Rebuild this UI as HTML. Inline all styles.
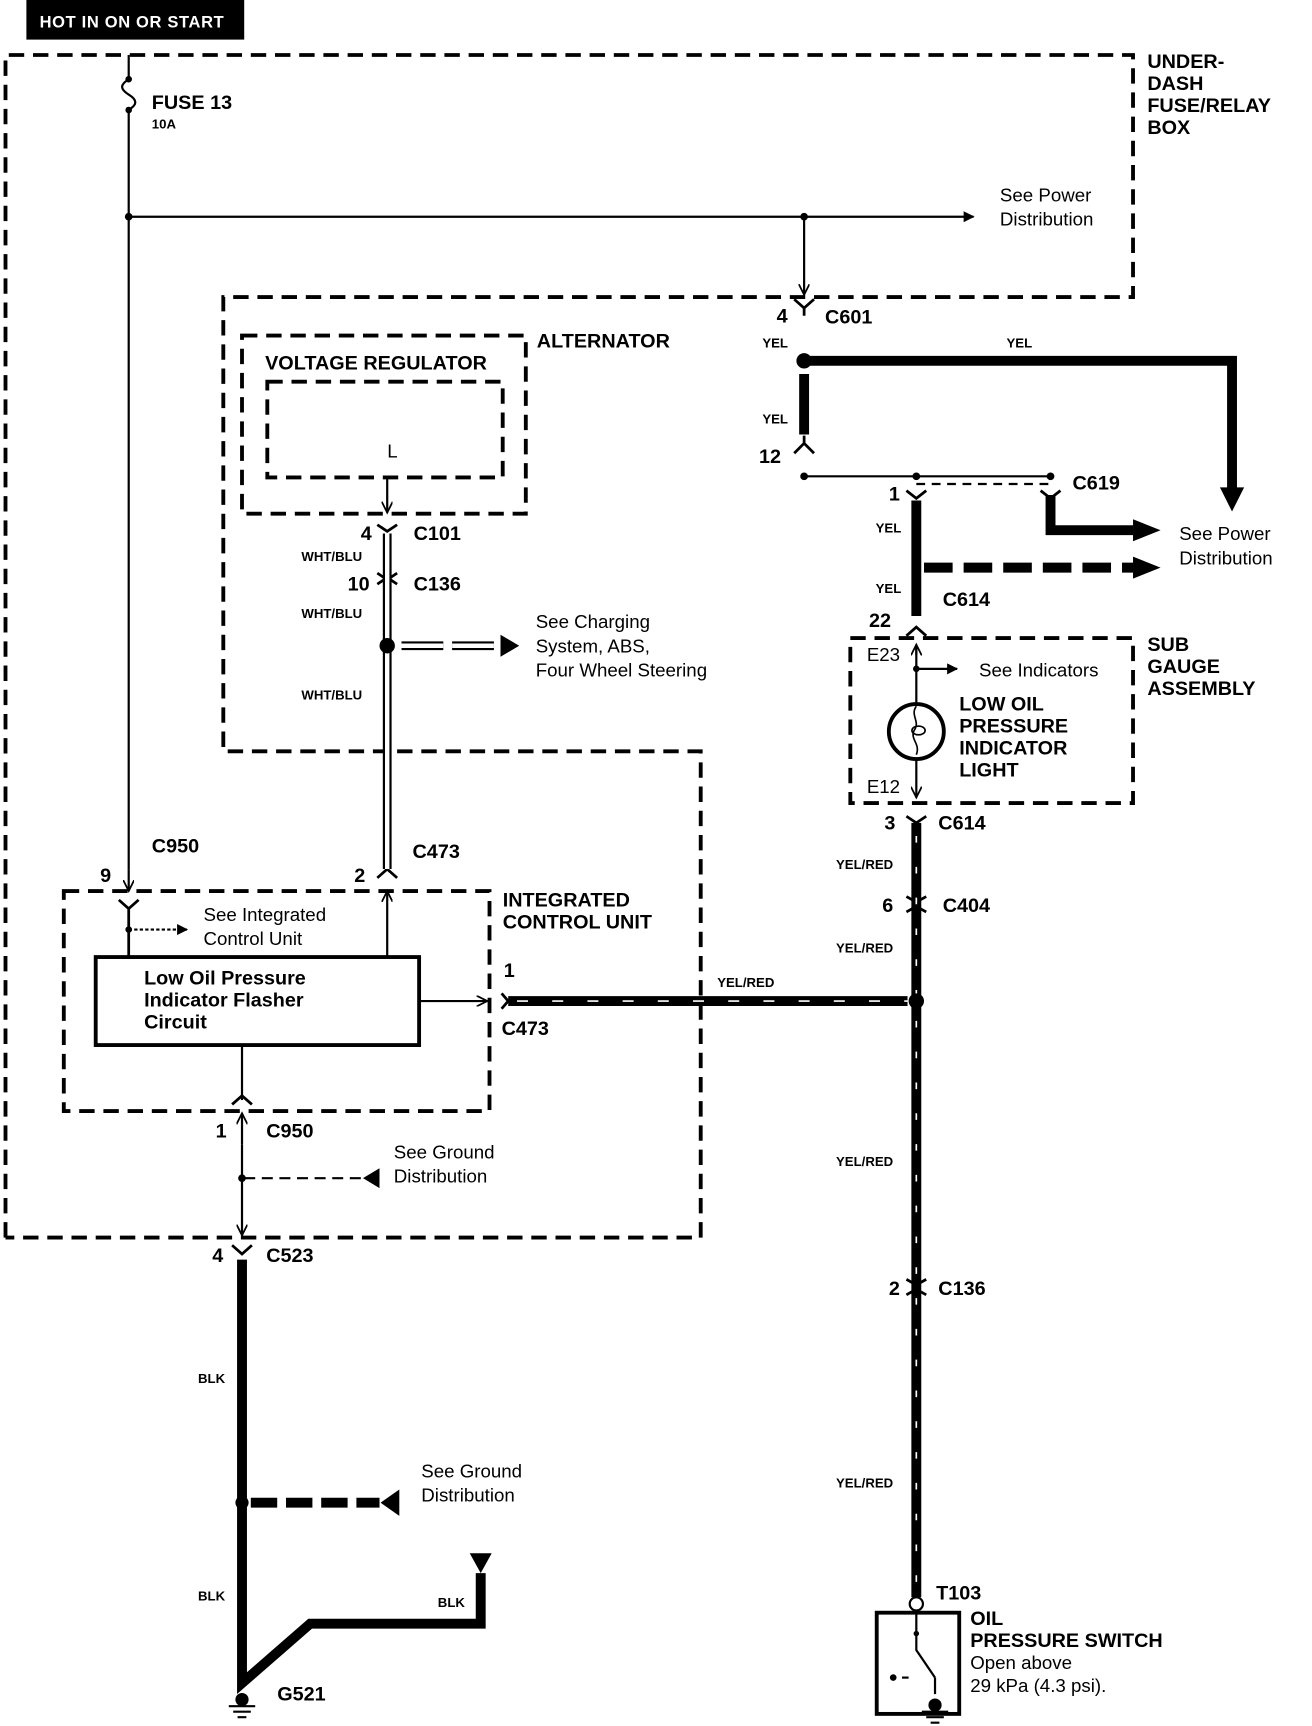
<!DOCTYPE html>
<html><head><meta charset="utf-8"><style>
html,body{margin:0;padding:0;background:#fff;width:1312px;height:1726px;overflow:hidden}
svg{display:block}
text{font-family:"Liberation Sans",Arial,sans-serif;fill:#000}
.b{font-weight:bold;font-size:18px}
.n{font-size:17px}
.s{font-weight:bold;font-size:12px}
</style></head><body>
<svg width="1312" height="1726" viewBox="0 0 1192.7 1569" preserveAspectRatio="none" xmlns="http://www.w3.org/2000/svg">
<defs>
<marker id="ah" markerWidth="10" markerHeight="10" refX="9" refY="5" orient="auto" markerUnits="userSpaceOnUse"><path d="M0,0 L10,5 L0,10 z"/></marker>
<marker id="av" markerWidth="12" markerHeight="10" refX="10" refY="5" orient="auto" markerUnits="userSpaceOnUse"><path d="M0,0 L10,5 L0,10" fill="none" stroke="#000" stroke-width="1.6"/></marker>
</defs>
<rect x="24" y="0" width="198" height="36" fill="#000"/>
<text x="36" y="25" font-size="15" font-weight="bold" letter-spacing="0.6" style="fill:#fff">HOT IN ON OR START</text>

<g fill="none" stroke="#000" stroke-width="3.5" stroke-dasharray="14,8">
<path d="M5,1125 V50 H1030 V270 H203 V683 H637 V1125 H5"/>
<rect x="220" y="305" width="258" height="162"/>
<rect x="243" y="347" width="214" height="87"/>
<rect x="58" y="810" width="387" height="200"/>
<rect x="773" y="580" width="257" height="150"/>
</g>

<g fill="none" stroke="#000" stroke-width="2">
<path d="M117,50 V72 M117,100 V790"/>
<path d="M117,72 c-8,5 -8,9 0,14 c8,5 8,9 0,14"/>
<path d="M117,197 H885" marker-end="url(#ah)"/>
<path d="M731,197 V268" marker-end="url(#av)"/>
<path d="M731,433 H955"/>
<path d="M352,434 V466" marker-end="url(#av)"/>
<path d="M117,790 V810" marker-end="url(#av)"/>
<path d="M117,845 H170" stroke-dasharray="3,2" marker-end="url(#ah)"/>
<path d="M352,870 V810" marker-end="url(#av)"/>
<path d="M381,910 H443" marker-end="url(#av)"/>
<path d="M220,950 V1000"/>
<path d="M220,1040 V1012" marker-end="url(#av)"/>
<path d="M220,1040 V1123" marker-end="url(#av)"/>
<path d="M222,1071 H330" stroke-dasharray="10,6"/>
<path d="M833,595 V586" marker-end="url(#av)"/>
<path d="M833,586 V640"/>
<path d="M833,608 H870" marker-end="url(#ah)"/>
<path d="M833,690 V725" marker-end="url(#av)"/>
<path d="M833,440 H955" stroke-dasharray="8,6"/>
<path d="M833,1466 V1500 L850,1525"/>
<path d="M850,1525 V1540"/>
</g>
<path d="M345,1062 L330,1071 L345,1080 z"/>
<rect x="87" y="870" width="294" height="80" fill="none" stroke="#000" stroke-width="3.5"/>

<g fill="none" stroke="#000" stroke-width="2.5">
<path d="M722,272 L731,280 L740,272 M731,280 V287"/>
<path d="M722,412 L731,403 L740,412 M731,403 V396"/>
<path d="M824,446 L833,453 L842,446"/>
<path d="M946,446 L955,453 L964,446"/>
<path d="M824,578 L833,570 L842,578"/>
<path d="M824,742 L833,748 L842,742"/>
<path d="M343,477 L352,483 L361,477"/>
<path d="M343,521 L352,527 L361,521 M343,531 L352,525 L361,531"/>
<path d="M108,818 L117,826 L126,818 M117,826 V870"/>
<path d="M343,798 L352,790 L361,798"/>
<path d="M211,1004 L220,996 L229,1004"/>
<path d="M211,1132 L220,1140 L229,1132"/>
<path d="M824,815 L833,820 L842,815 M824,829 L833,824 L842,829"/>
<path d="M824,1163 L833,1168 L842,1163 M824,1177 L833,1172 L842,1177"/>
<path d="M456,903 L462,910 L456,917"/>
</g>

<g fill="none" stroke="#000" stroke-width="9">
<path d="M731,340 V395"/>
<path d="M731,328 H1120 V445"/>
<path d="M833,455 V560"/>
<path d="M955,450 V482 H1030"/>
<path d="M840,516 H1030" stroke-dasharray="26,10"/>
<path d="M220,1145 V1530 L282,1476 H437 V1430"/>
<path d="M228,1366 H345" stroke-dasharray="24,8"/>
</g>
<path d="M1109,443 L1120,465 L1131,443 z"/>
<path d="M1030,472 L1055,482 L1030,492 z"/>
<path d="M1030,506 L1055,516 L1030,526 z"/>
<path d="M363,1354 L346,1366 L363,1378 z"/>
<path d="M427,1412 L447,1412 L437,1430 z"/>
<circle cx="731" cy="328" r="7"/>

<g fill="none">
<path d="M833,748 V1452" stroke="#000" stroke-width="9"/>
<path d="M833,760 V1450" stroke="#fff" stroke-width="1.5" stroke-dasharray="6,22"/>
<path d="M462,910 H825" stroke="#000" stroke-width="9"/>
<path d="M470,910 H825" stroke="#fff" stroke-width="1.5" stroke-dasharray="10,22"/>
</g>
<circle cx="833" cy="910" r="7"/>

<g fill="none">
<path d="M352,485 V790" stroke="#000" stroke-width="8"/>
<path d="M352,485 V790" stroke="#fff" stroke-width="4"/>
<path d="M365,587 H460" stroke="#000" stroke-width="8" stroke-dasharray="38,8"/>
<path d="M365,587 H460" stroke="#fff" stroke-width="4" stroke-dasharray="38,8"/>
</g>
<path d="M455,577 L472,587 L455,597 z"/>
<circle cx="352" cy="587" r="7"/>

<g>
<circle cx="117" cy="72" r="3"/><circle cx="117" cy="100" r="3"/>
<circle cx="117" cy="197" r="3.5"/><circle cx="731" cy="197" r="3.5"/>
<circle cx="731" cy="433" r="3.5"/><circle cx="833" cy="433" r="3.5"/><circle cx="955" cy="433" r="3.5"/>
<circle cx="117" cy="845" r="3"/><circle cx="220" cy="1071" r="3.5"/><circle cx="220" cy="1366" r="6"/>
<circle cx="833" cy="608" r="3"/>
</g>
<circle cx="833" cy="665" r="25" fill="none" stroke="#000" stroke-width="3.5"/>
<path d="M833,642 c-6,8 4,14 -2,22 c-4,8 6,12 2,22" fill="none" stroke="#000" stroke-width="1.5"/>
<ellipse cx="835" cy="664" rx="6" ry="4" fill="none" stroke="#000" stroke-width="1.5"/>

<circle cx="833" cy="1458" r="6" fill="#fff" stroke="#000" stroke-width="2"/>
<rect x="797" y="1466" width="75" height="92" fill="none" stroke="#000" stroke-width="3.5"/>
<circle cx="833" cy="1485" r="2.5"/><circle cx="812" cy="1525" r="3"/>
<path d="M820,1525 H826" stroke="#000" stroke-width="2"/>
<circle cx="850" cy="1550" r="6"/>
<path d="M838,1556 H862 M842,1561 H858 M846,1566 H854" stroke="#000" stroke-width="2"/>
<circle cx="220" cy="1545" r="6"/>
<path d="M208,1551 H232 M212,1556 H228 M216,1561 H224" stroke="#000" stroke-width="2"/>

<text class="b" x="138" y="99">FUSE 13</text>
<text class="s" x="138" y="117" font-size="10">10A</text>
<text class="b" x="1043" y="62">UNDER-</text>
<text class="b" x="1043" y="82">DASH</text>
<text class="b" x="1043" y="102">FUSE/RELAY</text>
<text class="b" x="1043" y="122">BOX</text>
<text class="n" x="909" y="183">See Power</text>
<text class="n" x="909" y="205">Distribution</text>
<text class="b" x="706" y="293">4</text><text class="b" x="750" y="294">C601</text>
<text class="s" x="693" y="316">YEL</text><text class="s" x="915" y="316">YEL</text>
<text class="s" x="693" y="385">YEL</text>
<text class="b" x="690" y="421">12</text>
<text class="b" x="808" y="455">1</text><text class="b" x="975" y="445">C619</text>
<text class="s" x="796" y="484">YEL</text><text class="s" x="796" y="539">YEL</text>
<text class="n" x="1072" y="491">See Power</text><text class="n" x="1072" y="513">Distribution</text>
<text class="b" x="857" y="551">C614</text><text class="b" x="790" y="570">22</text>
<text class="b" x="1043" y="592">SUB</text><text class="b" x="1043" y="612">GAUGE</text><text class="b" x="1043" y="632">ASSEMBLY</text>
<text class="n" x="788" y="601">E23</text><text class="n" x="890" y="615">See Indicators</text>
<text class="b" x="872" y="646">LOW OIL</text><text class="b" x="872" y="666">PRESSURE</text><text class="b" x="872" y="686">INDICATOR</text><text class="b" x="872" y="706">LIGHT</text>
<text class="n" x="788" y="721">E12</text>
<text class="b" x="804" y="754">3</text><text class="b" x="853" y="754">C614</text>
<text class="s" x="760" y="790">YEL/RED</text>
<text class="b" x="802" y="829">6</text><text class="b" x="857" y="829">C404</text>
<text class="s" x="760" y="866">YEL/RED</text>
<text class="s" x="652" y="897">YEL/RED</text>
<text class="s" x="760" y="1060">YEL/RED</text>
<text class="b" x="808" y="1177">2</text><text class="b" x="853" y="1177">C136</text>
<text class="s" x="760" y="1352">YEL/RED</text>
<text class="b" x="851" y="1454">T103</text>
<text class="b" x="882" y="1477">OIL</text><text class="b" x="882" y="1497">PRESSURE SWITCH</text>
<text class="n" x="882" y="1517">Open above</text><text class="n" x="882" y="1538">29 kPa (4.3 psi).</text>
<text class="b" x="488" y="316">ALTERNATOR</text>
<text class="b" x="241" y="336">VOLTAGE REGULATOR</text>
<text class="n" x="352" y="416">L</text>
<text class="b" x="328" y="491">4</text><text class="b" x="376" y="491">C101</text>
<text class="s" x="274" y="510">WHT/BLU</text>
<text class="b" x="316" y="537">10</text><text class="b" x="376" y="537">C136</text>
<text class="s" x="274" y="562">WHT/BLU</text>
<text class="n" x="487" y="571">See Charging</text><text class="n" x="487" y="593">System, ABS,</text><text class="n" x="487" y="615">Four Wheel Steering</text>
<text class="s" x="274" y="636">WHT/BLU</text>
<text class="b" x="138" y="775">C950</text><text class="b" x="375" y="780">C473</text>
<text class="b" x="91" y="802">9</text><text class="b" x="322" y="802">2</text>
<text class="b" x="457" y="824">INTEGRATED</text><text class="b" x="457" y="844">CONTROL UNIT</text>
<text class="n" x="185" y="837">See Integrated</text><text class="n" x="185" y="859">Control Unit</text>
<text class="b" x="131" y="895" font-size="17">Low Oil Pressure</text>
<text class="b" x="131" y="915" font-size="17">Indicator Flasher</text>
<text class="b" x="131" y="935" font-size="17">Circuit</text>
<text class="b" x="458" y="888">1</text><text class="b" x="456" y="941">C473</text>
<text class="b" x="196" y="1034">1</text><text class="b" x="242" y="1034">C950</text>
<text class="n" x="358" y="1053">See Ground</text><text class="n" x="358" y="1075">Distribution</text>
<text class="b" x="193" y="1147">4</text><text class="b" x="242" y="1147">C523</text>
<text class="s" x="180" y="1257">BLK</text>
<text class="n" x="383" y="1343">See Ground</text><text class="n" x="383" y="1365">Distribution</text>
<text class="s" x="180" y="1455">BLK</text><text class="s" x="398" y="1461">BLK</text>
<text class="b" x="252" y="1546">G521</text>
</svg>
</body></html>
